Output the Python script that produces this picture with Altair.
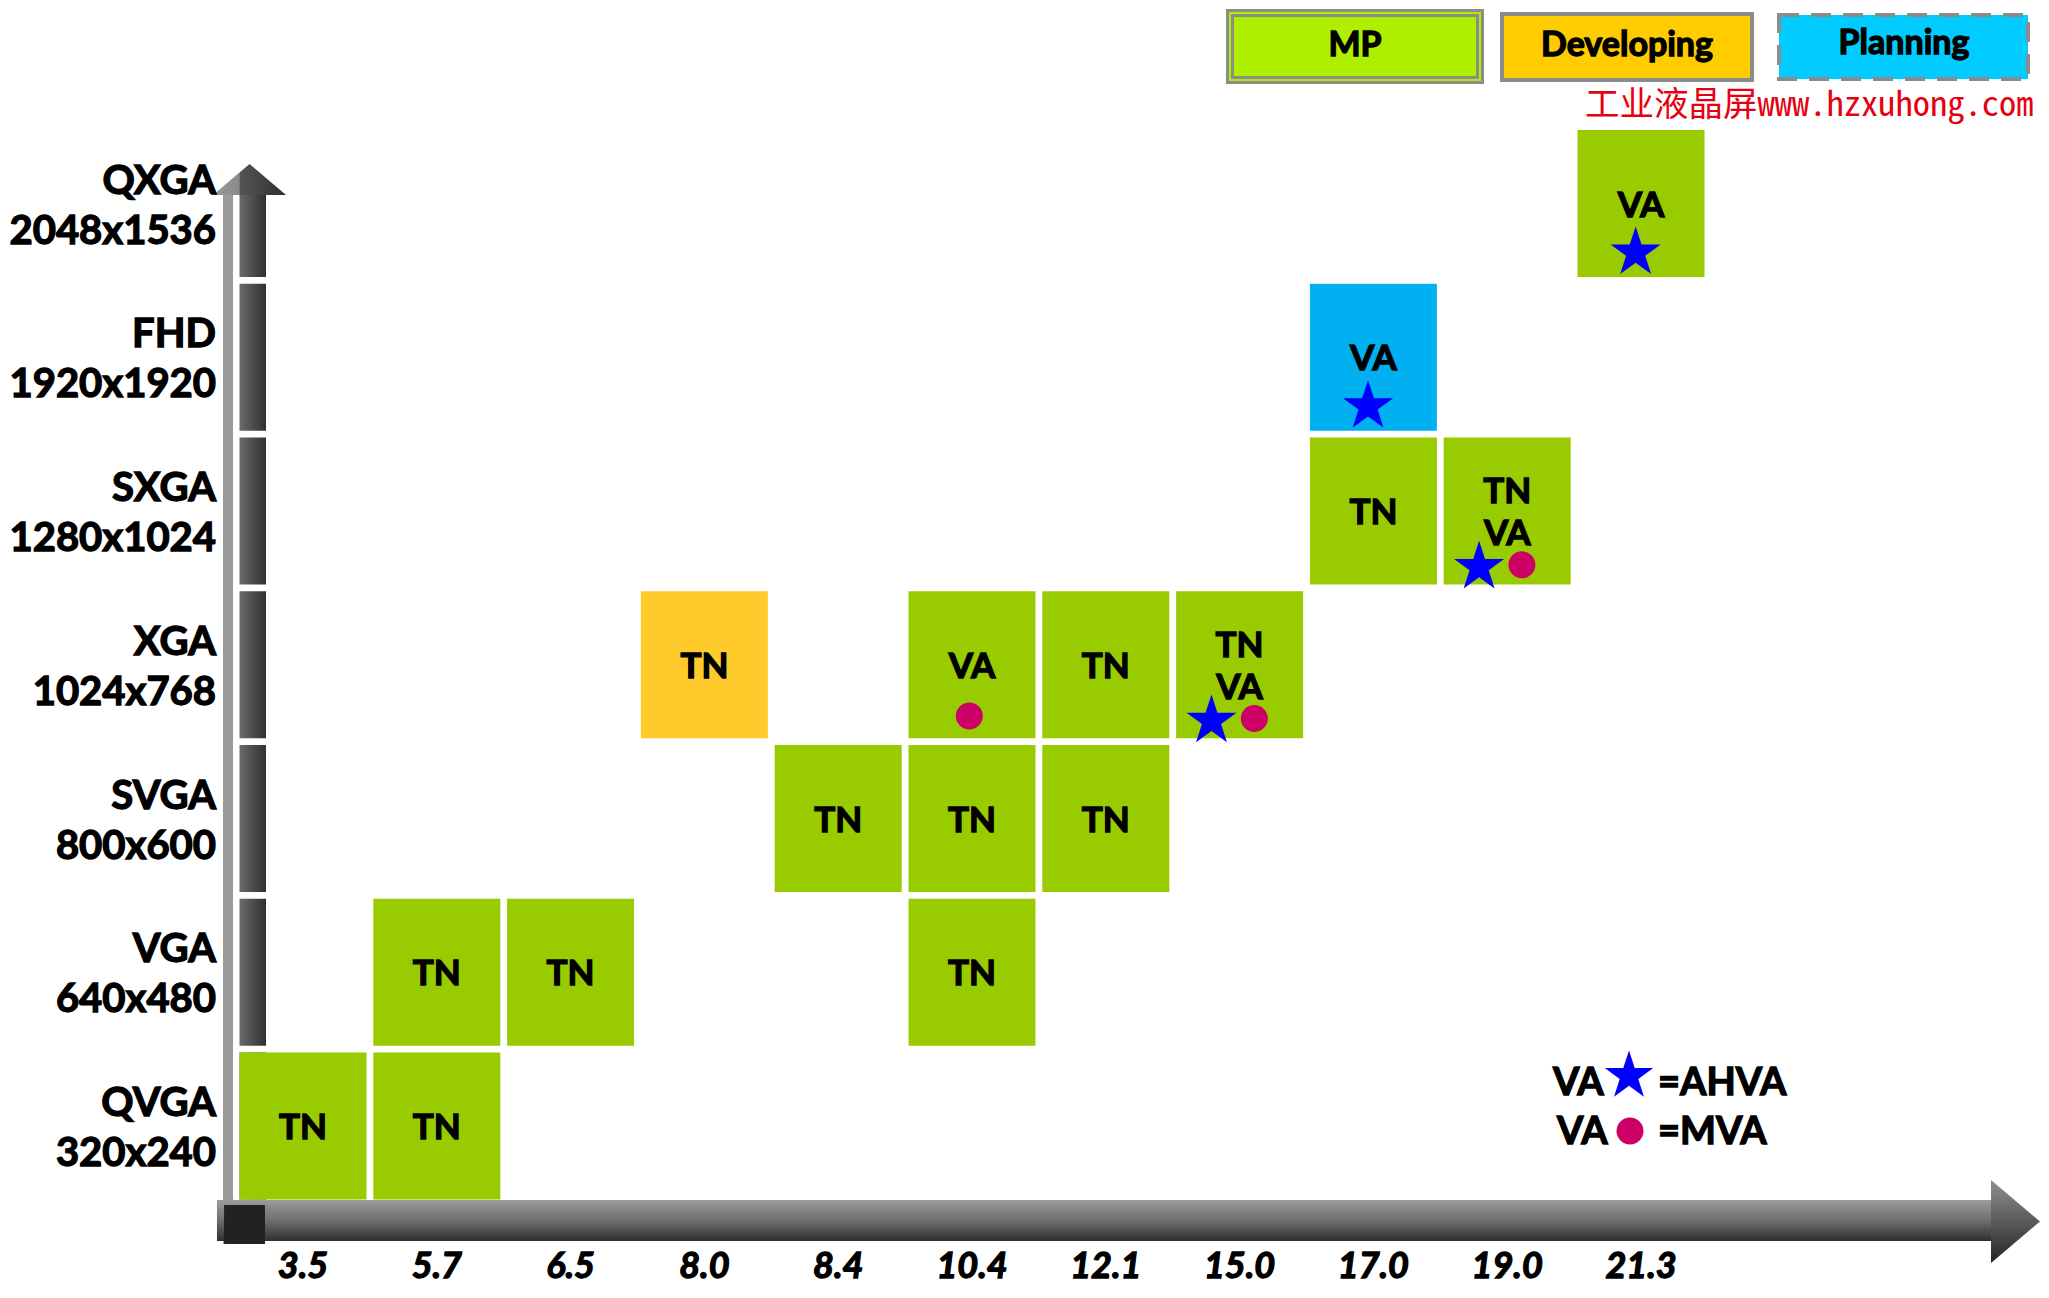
import math
import altair as alt
import pandas as pd

# ---------------- data ----------------
SIZES = ["3.5", "5.7", "6.5", "8.0", "8.4", "10.4", "12.1", "15.0", "17.0", "19.0", "21.3"]
RES_NAMES = ["QVGA", "VGA", "SVGA", "XGA", "SXGA", "FHD", "QXGA"]
RES_DIMS = ["320x240", "640x480", "800x600", "1024x768", "1280x1024", "1920x1920", "2048x1536"]

CELL_SIZE = ["3.5", "5.7", "5.7", "6.5", "8.0", "8.4", "10.4", "10.4", "10.4", "12.1", "12.1",
             "15.0", "17.0", "17.0", "19.0", "21.3"]
CELL_RES = ["QVGA", "QVGA", "VGA", "VGA", "XGA", "SVGA", "VGA", "SVGA", "XGA", "SVGA", "XGA",
            "XGA", "SXGA", "FHD", "SXGA", "QXGA"]
CELL_STATUS = ["MP", "MP", "MP", "MP", "Developing", "MP", "MP", "MP", "MP", "MP", "MP",
               "MP", "MP", "Planning", "MP", "MP"]
CELL_TECH = ["TN", "TN", "TN", "TN", "TN", "TN", "TN", "TN", "VA", "TN", "TN",
             "TN/VA", "TN", "VA", "TN/VA", "VA"]
CELL_AHVA = [0, 0, 0, 0, 0, 0, 0, 0, 0, 0, 0, 1, 0, 1, 1, 1]
CELL_MVA = [0, 0, 0, 0, 0, 0, 0, 0, 1, 0, 0, 1, 0, 0, 1, 0]

STATUS_NAMES = ["MP", "Developing", "Planning"]
CELL_COLORS = ["#99CC00", "#FFCA2C", "#00B0F0"]
LEGEND_COLORS = ["#AEEF00", "#FFCC00", "#00CCFF"]
WATERMARK = "工业液晶屏www.hzxuhong.com"

# ---------------- layout / style ----------------
W, H = 2033, 1282
HALF_W, HALF_H = 0.4746, 0.478
XS = alt.Scale(domain=[0, 10], range=[295, 1633], zero=False, nice=False)
YS = alt.Scale(domain=[0, 6], range=[1118, 195.5], zero=False, nice=False)
FONT = "Lato"
GRAY = "#8c8c8c"
HEAVY = dict(stroke="black", strokeWidth=1.3)


def star_path():
    pts = []
    for k in range(10):
        ang = math.radians(-90 + 36 * k)
        r = 1.0 if k % 2 == 0 else 0.382
        pts.append(f"{r * math.cos(ang):.4f},{r * math.sin(ang):.4f}")
    return "M" + " L".join(pts) + " Z"


STAR = star_path()


def xq(f):
    return alt.X(f, type="quantitative", scale=XS, axis=None)


def yq(f):
    return alt.Y(f, type="quantitative", scale=YS, axis=None)


one = pd.DataFrame({"k": [0]})

# ---------------- tables ----------------
cells = pd.DataFrame({"size": CELL_SIZE, "res": CELL_RES, "status": CELL_STATUS,
                      "tech": CELL_TECH, "ahva": CELL_AHVA, "mva": CELL_MVA})
cells["xi"] = cells["size"].map(SIZES.index)
cells["yi"] = cells["res"].map(RES_NAMES.index)
parts = cells["tech"].str.split("/")
cells["line1"] = parts.str[0]
cells["line2"] = parts.str[1].fillna("")
cells["two"] = cells["line2"] != ""

mk = []
for _, c in cells.iterrows():
    if c.ahva and c.mva:
        mk.append({"kind": "star", "mx": c.xi - 0.21, "my": c.yi - 0.365})
        mk.append({"kind": "dot", "mx": c.xi + 0.11, "my": c.yi - 0.35})
    elif c.ahva:
        mk.append({"kind": "star", "mx": c.xi - 0.04, "my": c.yi - 0.32})
    elif c.mva:
        mk.append({"kind": "dot", "mx": c.xi - 0.02, "my": c.yi - 0.333})
markers = pd.DataFrame(mk)

rows = pd.DataFrame({"name": RES_NAMES, "dims": RES_DIMS, "yi": list(range(len(RES_NAMES)))})
cols = pd.DataFrame({"label": SIZES, "xi": list(range(len(SIZES)))})

HEAD_BASE, HEAD_TIP = 6.055, 6.257
shaft = rows[["yi"]].copy()
shaft["b"] = shaft["yi"] - HALF_H
shaft["t"] = (shaft["yi"] + HALF_H).clip(upper=HEAD_BASE)
shaft["l"] = -HALF_W
shaft["r"] = -0.2765

# ---------------- axis arrows ----------------
grad_h = {"gradient": "linear", "x1": 0, "x2": 1, "y1": 0, "y2": 0,
          "stops": [{"offset": 0, "color": "#6a6a6a"}, {"offset": 1, "color": "#303030"}]}
grad_head_y = {"gradient": "linear", "x1": 0, "x2": 1, "y1": 0, "y2": 0,
               "stops": [{"offset": 0, "color": "#9a9a9a"}, {"offset": 0.36, "color": "#8a8a8a"},
                         {"offset": 0.37, "color": "#555555"}, {"offset": 1, "color": "#2e2e2e"}]}
grad_v = {"gradient": "linear", "x1": 0, "x2": 0, "y1": 0, "y2": 1,
          "stops": [{"offset": 0, "color": "#9c9c9c"}, {"offset": 0.5, "color": "#6e6e6e"},
                    {"offset": 1, "color": "#2e2e2e"}]}

shadow = alt.Chart(pd.DataFrame({"l": [-0.598], "r": [-0.523], "b": [-0.767], "t": [HEAD_BASE]})).mark_rect(
    fill="#9a9a9a").encode(x=xq("l"), x2="r", y=yq("b"), y2="t")

shaft_l = alt.Chart(shaft).mark_rect(fill=grad_h).encode(x=xq("l"), x2="r", y=yq("b"), y2="t")

yhead = alt.Chart(pd.DataFrame({"yy": [HEAD_BASE, HEAD_TIP], "a": [-0.6726, -0.3999],
                                "c": [-0.1271, -0.3999]})).mark_area(
    orient="horizontal", fill=grad_head_y).encode(y=yq("yy"), x=xq("a"), x2="c")

hbar = alt.Chart(pd.DataFrame({"l": [-0.643], "r": [12.66], "b": [-0.748], "t": [-0.481]})).mark_rect(
    fill=grad_v).encode(x=xq("l"), x2="r", y=yq("t"), y2="b")

xhead = alt.Chart(pd.DataFrame({"xx": [12.616, 12.982], "a": [-0.351, -0.621],
                                "c": [-0.891, -0.621]})).mark_area(
    orient="vertical", fill={"gradient": "linear", "x1": 0, "x2": 0, "y1": 0, "y2": 1,
                             "stops": [{"offset": 0, "color": "#909090"},
                                       {"offset": 1, "color": "#252525"}]}).encode(
    x=xq("xx"), y=yq("a"), y2="c")

corner = alt.Chart(pd.DataFrame({"l": [-0.590], "r": [-0.284], "b": [-0.767], "t": [-0.514]})).mark_rect(
    fill="#222222").encode(x=xq("l"), x2="r", y=yq("b"), y2="t")

# ---------------- cells ----------------
cell_rects = alt.Chart(cells).transform_calculate(
    l=f"datum.xi - {HALF_W}", r=f"datum.xi + {HALF_W}",
    b=f"datum.yi - {HALF_H}", t=f"datum.yi + {HALF_H}",
).mark_rect(strokeWidth=0).encode(
    x=xq("l"), x2="r", y=yq("b"), y2="t",
    fill=alt.Fill("status:N", scale=alt.Scale(domain=STATUS_NAMES, range=CELL_COLORS), legend=None),
)

txt = dict(font=FONT, fontSize=35, fontWeight="bold", color="black", baseline="middle", **HEAVY)
cell_single = alt.Chart(cells).transform_filter("!datum.two").mark_text(dy=2, **txt).encode(
    x=xq("xi"), y=yq("yi"), text="line1:N")
cell_top = alt.Chart(cells).transform_filter("datum.two").mark_text(dy=-19, **txt).encode(
    x=xq("xi"), y=yq("yi"), text="line1:N")
cell_bot = alt.Chart(cells).transform_filter("datum.two").mark_text(dy=23, **txt).encode(
    x=xq("xi"), y=yq("yi"), text="line2:N")

stars = alt.Chart(markers).transform_filter("datum.kind == 'star'").mark_point(
    shape=STAR, size=2770, filled=True, fill="#0000FF", opacity=1, strokeWidth=0).encode(
    x=xq("mx"), y=yq("my"))
dots = alt.Chart(markers).transform_filter("datum.kind == 'dot'").mark_circle(
    size=729, color="#CC0066", opacity=1).encode(x=xq("mx"), y=yq("my"))

# ---------------- axis labels ----------------
lab = dict(font=FONT, fontSize=40, fontWeight="bold", color="black", baseline="middle", align="right",
           **HEAVY)
ylab1 = alt.Chart(rows).mark_text(dy=-22, **lab).encode(x=alt.value(208), y=yq("yi"), text="name:N")
ylab2 = alt.Chart(rows).mark_text(dy=28, **lab).encode(x=alt.value(208), y=yq("yi"), text="dims:N")
xlab = alt.Chart(cols).mark_text(font=FONT, fontSize=36, fontWeight="bold", fontStyle="italic",
                                 color="black", baseline="middle", dy=2, **HEAVY).encode(
    x=xq("xi"), y=alt.value(1257), text="label:N")


# ---------------- top legend ----------------
def box(x0, x1, y0, y1, **kw):
    return alt.Chart(one).mark_rect(**kw).encode(
        x=alt.value(x0), x2=alt.value(x1), y=alt.value(y0), y2=alt.value(y1))


def label(x, y, s, size=34, align="center", weight="bold", color="black", font=FONT,
          baseline="middle", heavy=True):
    extra = HEAVY if heavy else {}
    return alt.Chart(one).mark_text(font=font, fontSize=size, fontWeight=weight, color=color,
                                    align=align, baseline=baseline, **extra).encode(
        x=alt.value(x), y=alt.value(y), text=alt.value(s))


legend = [
    box(1218, 1476, 1, 76, fill=GRAY),
    box(1221, 1473, 4, 73, fill=LEGEND_COLORS[0]),
    box(1223, 1471, 6, 71, fill=GRAY),
    box(1226, 1468, 9, 68, fill=LEGEND_COLORS[0]),
    label(1347, 38, STATUS_NAMES[0]),
    box(1492, 1746, 4, 74, fill=GRAY),
    box(1496, 1742, 8, 70, fill=LEGEND_COLORS[1]),
    label(1619, 38, STATUS_NAMES[1]),
    box(1771, 2020, 7, 71, fill=LEGEND_COLORS[2], stroke=GRAY, strokeWidth=4, strokeDash=[20, 12]),
    label(1896, 36, STATUS_NAMES[2]),
    label(1577, 108, WATERMARK, size=34.5, weight="normal", color="#E60012", align="left",
          font="Noto Sans Mono CJK SC, Noto Sans CJK SC", baseline="alphabetic", heavy=False),
]

# ---------------- marker legend ----------------
mlegend = [
    label(1545, 1076, "VA", size=38, align="left"),
    alt.Chart(one).mark_point(shape=STAR, size=2600, filled=True, fill="#0000FF", opacity=1,
                              strokeWidth=0).encode(x=alt.value(1621), y=alt.value(1068)),
    label(1650, 1076, "=AHVA", size=38, align="left"),
    label(1549, 1125, "VA", size=38, align="left"),
    alt.Chart(one).mark_circle(size=729, color="#CC0066", opacity=1).encode(
        x=alt.value(1622), y=alt.value(1123)),
    label(1650, 1125, "=MVA", size=38, align="left"),
]

chart = alt.layer(
    shadow, shaft_l, yhead, hbar, xhead, corner,
    cell_rects, cell_single, cell_top, cell_bot, stars, dots,
    ylab1, ylab2, xlab, *legend, *mlegend,
).properties(
    width=W, height=H, padding=0, background="white",
    autosize=alt.AutoSizeParams(type="none"),
).configure_view(strokeWidth=0)

chart.save("out.html", embed_options={"renderer": "svg", "actions": False})
